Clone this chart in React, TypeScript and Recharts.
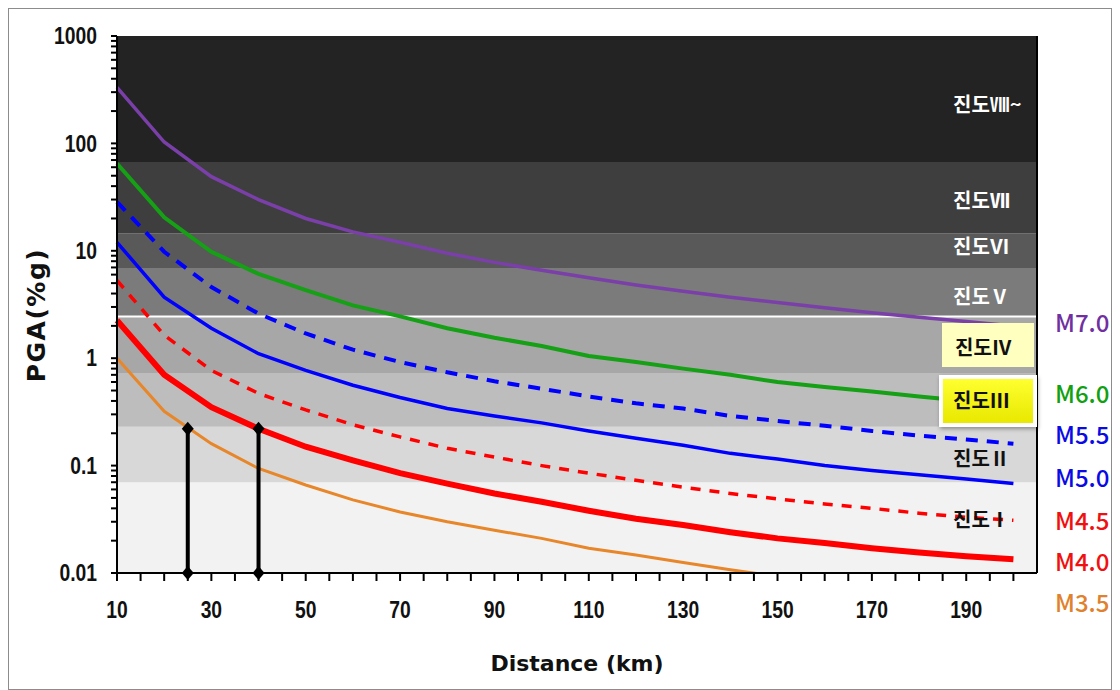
import { LineChart, Line, XAxis, YAxis, ReferenceArea, ReferenceLine, ReferenceDot } from "recharts";

// distance (km) and PGA (%g)
const distances = [10, 20, 30, 40, 50, 60, 70, 80, 90, 100, 110, 120, 130, 140, 150, 160, 170, 180, 190, 200];
const m70 = [333, 103, 49, 30, 20, 15, 12, 9.5, 7.8, 6.6, 5.6, 4.8, 4.2, 3.7, 3.3, 2.95, 2.65, 2.4, 2.2, 2.0];
const m60 = [65, 20.5, 9.8, 6.1, 4.3, 3.1, 2.45, 1.9, 1.55, 1.3, 1.05, 0.92, 0.8, 0.7, 0.6, 0.54, 0.49, 0.44, 0.4, 0.37];
const m55 = [28.5, 9.8, 4.6, 2.6, 1.7, 1.2, 0.92, 0.74, 0.61, 0.52, 0.44, 0.38, 0.34, 0.29, 0.26, 0.235, 0.21, 0.19, 0.175, 0.16];
const m50 = [12, 3.7, 1.9, 1.1, 0.77, 0.56, 0.43, 0.34, 0.29, 0.25, 0.21, 0.18, 0.155, 0.13, 0.115, 0.1, 0.09, 0.082, 0.075, 0.068];
const m45 = [5.3, 1.64, 0.77, 0.47, 0.33, 0.24, 0.185, 0.145, 0.12, 0.1, 0.085, 0.073, 0.063, 0.055, 0.049, 0.044, 0.04, 0.036, 0.033, 0.031];
const m40 = [2.25, 0.7, 0.35, 0.22, 0.15, 0.112, 0.085, 0.068, 0.055, 0.046, 0.038, 0.032, 0.028, 0.024, 0.021, 0.019, 0.017, 0.0155, 0.0143, 0.0134];
const m35 = [1.0, 0.32, 0.16, 0.094, 0.066, 0.048, 0.037, 0.03, 0.025, 0.021, 0.017, 0.0147, 0.0125, 0.0107, 0.0093, null, null, null, null, null];

// the two black markers
const arrowDistances = [25, 40];
const arrowTops = [0.22, 0.22];
const arrowBase = 0.01;

// intensity bands (PGA %g edges, bottom to top)
const bandEdges = [0.01, 0.07, 0.23, 0.73, 2.45, 6.9, 14.6, 67, 1000];
const bandFills = ["#f2f2f2", "#d8d8d8", "#bdbdbd", "#a7a7a7", "#7b7b7b", "#595959", "#3e3e3e", "#232323"];

const yTicks = [
  0.01, 0.02, 0.03, 0.04, 0.05, 0.06, 0.07, 0.08, 0.09,
  0.1, 0.2, 0.3, 0.4, 0.5, 0.6, 0.7, 0.8, 0.9,
  1, 2, 3, 4, 5, 6, 7, 8, 9,
  10, 20, 30, 40, 50, 60, 70, 80, 90,
  100, 200, 300, 400, 500, 600, 700, 800, 900, 1000,
];
const yLabels = [0.01, 0.1, 1, 10, 100, 1000];
const xTicks = [10, 15, 20, 25, 30, 35, 40, 45, 50, 55, 60, 65, 70, 75, 80, 85, 90, 95, 100, 105, 110, 115, 120, 125, 130, 135, 140, 145, 150, 155, 160, 165, 170, 175, 180, 185, 190, 195, 200];
const xLabels = [10, 30, 50, 70, 90, 110, 130, 150, 170, 190];

const rows = distances.map((d, i) => ({ d, m70: m70[i], m60: m60[i], m55: m55[i], m50: m50[i], m45: m45[i], m40: m40[i], m35: m35[i] }));

const tickFont = "'Liberation Sans', Arial, sans-serif";
const kr = "'Noto Sans CJK KR', sans-serif";

// narrow bold tick text (the original uses a condensed face)
const NarrowTick = ({ x, y, payload, labels, anchor, dy }: any) => {
  const v = payload.value;
  if (!labels.includes(v)) return <g />;
  return (
    <text
      x={0}
      y={0}
      dy={dy}
      transform={`translate(${x},${y}) scale(0.84,1)`}
      textAnchor={anchor}
      fontFamily={tickFont}
      fontSize={23}
      fontWeight={700}
      fill="#111"
    >
      {String(v)}
    </text>
  );
};

const Diamond = (props: any) => {
  const { cx, cy } = props;
  if (cx == null || cy == null) return <g />;
  return <path d={`M${cx},${cy - 7}L${cx + 6},${cy}L${cx},${cy + 7}L${cx - 6},${cy}Z`} fill="#000" />;
};

// page coords -> wrapper coords (8px body margin + 1px border)
const px = (v: number) => v - 9;

function Tag({ x, y, color, size = 20, weight = 700, font = kr, children }: any) {
  return (
    <div
      style={{
        position: "absolute",
        left: px(x),
        top: px(y),
        transform: "translateY(-50%)",
        color,
        fontSize: size,
        fontWeight: weight,
        fontFamily: font,
        lineHeight: 1,
        whiteSpace: "nowrap",
      }}
    >
      {children}
    </div>
  );
}

const magLabels = [
  { t: "M7.0", y: 322, c: "#7030a0" },
  { t: "M6.0", y: 393, c: "#11a011" },
  { t: "M5.5", y: 434, c: "#0a0ae6" },
  { t: "M5.0", y: 477, c: "#0a0ae6" },
  { t: "M4.5", y: 520, c: "#f01010" },
  { t: "M4.0", y: 561, c: "#f01010" },
  { t: "M3.5", y: 602, c: "#e0812d" },
];

export default function App() {
  return (
    <div
      style={{
        position: "relative",
        width: 1104,
        height: 682,
        border: "1px solid #8c8c8c",
        boxSizing: "border-box",
        background: "#fff",
      }}
    >
      <LineChart
        width={1102}
        height={680}
        data={rows}
        margin={{ top: 27, right: 74, left: 8, bottom: 76 }}
        style={{ fontFamily: tickFont }}
      >
        {bandFills.map((f, i) => (
          <ReferenceArea key={f} y1={bandEdges[i]} y2={bandEdges[i + 1]} fill={f} fillOpacity={1} stroke="none" />
        ))}
        <ReferenceLine y={bandEdges[4]} stroke="#fff" strokeWidth={2} />
        <ReferenceLine x={205} stroke="#000" strokeWidth={2} />
        <XAxis
          dataKey="d"
          type="number"
          domain={[10, 205]}
          ticks={xTicks}
          interval={0}
          tickSize={8}
          tickMargin={21}
          height={40}
          axisLine={{ stroke: "#000", strokeWidth: 2 }}
          tickLine={{ stroke: "#000", strokeWidth: 2 }}
          tick={<NarrowTick labels={xLabels} anchor="middle" dy="0.71em" />}
        />
        <YAxis
          type="number"
          scale="log"
          domain={[0.01, 1000]}
          allowDataOverflow
          ticks={yTicks}
          interval={0}
          tickSize={6}
          tickMargin={14}
          width={100}
          axisLine={{ stroke: "#000", strokeWidth: 2 }}
          tickLine={{ stroke: "#000", strokeWidth: 2 }}
          tick={<NarrowTick labels={yLabels} anchor="end" dy="0.355em" />}
        />
        <Line dataKey="m70" stroke="#7a3fa8" strokeWidth={3.5} dot={false} isAnimationActive={false} />
        <Line dataKey="m60" stroke="#15a015" strokeWidth={4} dot={false} isAnimationActive={false} />
        <Line dataKey="m55" stroke="#0000ff" strokeWidth={4} strokeDasharray="12 9" dot={false} isAnimationActive={false} />
        <Line dataKey="m50" stroke="#0000ff" strokeWidth={3.5} dot={false} isAnimationActive={false} />
        <Line dataKey="m45" stroke="#ff0000" strokeWidth={3.5} strokeDasharray="10 9" dot={false} isAnimationActive={false} />
        <Line dataKey="m40" stroke="#ff0000" strokeWidth={6} dot={false} isAnimationActive={false} />
        <Line dataKey="m35" stroke="#e8862a" strokeWidth={3} dot={false} isAnimationActive={false} />
        {arrowDistances.map((d, i) => (
          <Line
            key={`arrow${d}`}
            data={[
              { d, v: arrowBase },
              { d, v: arrowTops[i] },
            ]}
            dataKey="v"
            stroke="#000"
            strokeWidth={4}
            dot={false}
            isAnimationActive={false}
          />
        ))}
        {arrowDistances.map((d, i) => (
          <ReferenceDot key={`top${d}`} x={d} y={arrowTops[i]} r={7} shape={Diamond} ifOverflow="visible" />
        ))}
        {arrowDistances.map((d) => (
          <ReferenceDot key={`base${d}`} x={d} y={arrowBase} r={7} shape={Diamond} ifOverflow="visible" />
        ))}
      </LineChart>

      {/* axis titles */}
      <div
        style={{
          position: "absolute",
          left: px(36),
          top: px(315),
          transform: "translate(-50%, -50%) rotate(-90deg)",
          fontFamily: "'DejaVu Sans', sans-serif",
          fontWeight: 700,
          fontSize: 25,
          letterSpacing: 1.5,
          whiteSpace: "nowrap",
          color: "#111",
        }}
      >
        PGA(%g)
      </div>
      <div
        style={{
          position: "absolute",
          left: px(577),
          top: px(663),
          transform: "translate(-50%, -50%)",
          fontFamily: "'DejaVu Sans', sans-serif",
          fontWeight: 700,
          fontSize: 22,
          whiteSpace: "nowrap",
          color: "#111",
        }}
      >
        Distance (km)
      </div>

      {/* intensity labels */}
      <Tag x={953} y={104} color="#fff">진도Ⅷ~</Tag>
      <Tag x={953} y={200} color="#fff">진도Ⅶ</Tag>
      <Tag x={953} y={246} color="#fff">진도Ⅵ</Tag>
      <Tag x={953} y={296} color="#fff">진도Ⅴ</Tag>
      <div
        style={{
          position: "absolute",
          left: px(942),
          top: px(323),
          width: 92,
          height: 44,
          background: "#ffffc0",
        }}
      />
      <Tag x={955} y={347} color="#111">진도Ⅳ</Tag>
      <div
        style={{
          position: "absolute",
          left: px(939),
          top: px(375),
          width: 98,
          height: 52,
          boxSizing: "border-box",
          border: "4px solid #fff",
          background: "linear-gradient(#ffff30, #e8e800)",
          boxShadow: "1px 2px 4px rgba(0,0,0,0.35)",
        }}
      />
      <Tag x={953} y={400} color="#111">진도Ⅲ</Tag>
      <Tag x={953} y={458} color="#111">진도Ⅱ</Tag>
      <Tag x={953} y={519} color="#111">진도Ⅰ</Tag>

      {magLabels.map((m) => (
        <Tag key={m.t} x={1055} y={m.y} color={m.c} size={24} weight={500}>
          {m.t}
        </Tag>
      ))}
    </div>
  );
}
